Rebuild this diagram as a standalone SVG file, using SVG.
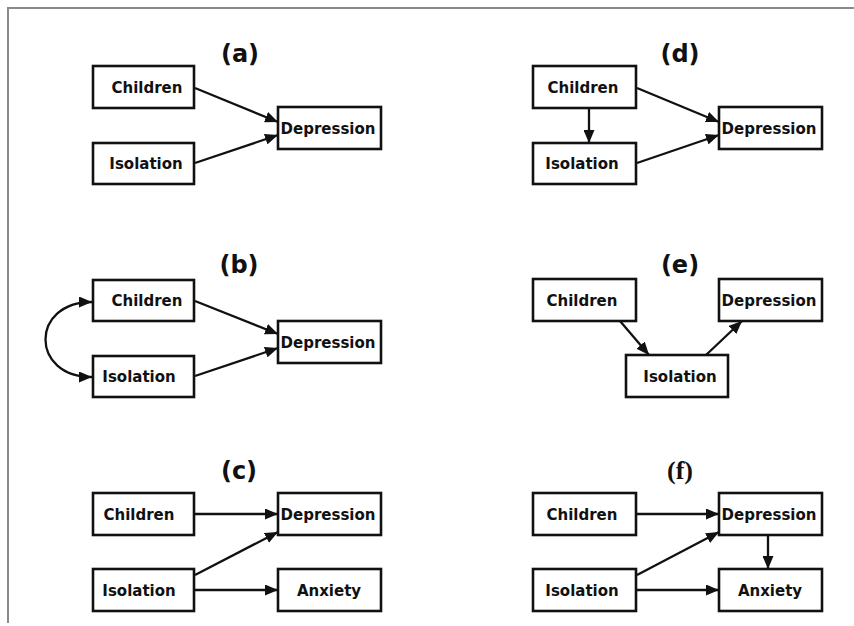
<svg xmlns="http://www.w3.org/2000/svg" width="854" height="626" viewBox="0 0 854 626">
  <style>
    .frame { stroke: #8a8a8a; stroke-width: 2; fill: none; }
    .box rect { fill: #ffffff; stroke: #111111; stroke-width: 2.6; }
    .box text { font-family: "DejaVu Sans", "Liberation Sans", sans-serif; font-weight: bold; font-size: 15px; fill: #111111; text-anchor: middle; }
    .title { font-family: "DejaVu Sans", "Liberation Sans", sans-serif; font-weight: bold; font-size: 24px; fill: #111111; text-anchor: middle; }
    .title.serif { font-family: "Liberation Serif", "DejaVu Serif", serif; font-size: 26px; }
    .edges path, .edges line { stroke: #111111; stroke-width: 2.3; fill: none; marker-end: url(#arrow); }
    .edges .both { marker-start: url(#arrow); }
  </style>
  <defs>
    <marker id="arrow" viewBox="0 0 13 11" refX="13" refY="5.5" markerWidth="13" markerHeight="11" markerUnits="userSpaceOnUse" orient="auto-start-reverse">
      <path d="M0,0 L13,5.5 L0,11 z" fill="#111111"/>
    </marker>
  </defs>

  <rect width="854" height="626" fill="#ffffff"/>
  <path class="frame" d="M8,623 L8,8 L854,8"/>

  <!-- panel titles -->
  <text class="title" x="240" y="62">(a)</text>
  <text class="title" x="680" y="62">(d)</text>
  <text class="title" x="239" y="273">(b)</text>
  <text class="title" x="680" y="273">(e)</text>
  <text class="title" x="239" y="479">(c)</text>
  <text class="title serif" x="680" y="479">(f)</text>

  <!-- connectors -->
  <g class="edges">
    <!-- (a) -->
    <line x1="195" y1="88" x2="278" y2="122"/>
    <line x1="195" y1="163" x2="278" y2="135"/>
    <!-- (d) -->
    <line x1="589" y1="108" x2="589" y2="143"/>
    <line x1="637" y1="88" x2="719" y2="122"/>
    <line x1="637" y1="163" x2="719" y2="135"/>
    <!-- (b) -->
    <path class="both" d="M92,302 C30,302 30,377 92,377"/>
    <line x1="195" y1="301" x2="278" y2="334"/>
    <line x1="195" y1="376" x2="278" y2="348"/>
    <!-- (e) -->
    <line x1="620" y1="321" x2="649" y2="355"/>
    <line x1="706" y1="355" x2="742" y2="321"/>
    <!-- (c) -->
    <line x1="195" y1="514" x2="278" y2="514"/>
    <line x1="195" y1="575" x2="278" y2="532"/>
    <line x1="195" y1="590" x2="278" y2="590"/>
    <!-- (f) -->
    <line x1="637" y1="514" x2="719" y2="514"/>
    <line x1="637" y1="575" x2="719" y2="532"/>
    <line x1="637" y1="590" x2="719" y2="590"/>
    <line x1="768" y1="535" x2="768" y2="569"/>
  </g>

  <!-- (a) nodes -->
  <g id="a-children" class="box"><rect x="93" y="66" width="101" height="42"/><text x="147" y="93">Children</text></g>
  <g id="a-isolation" class="box"><rect x="93" y="143" width="101" height="41"/><text x="146" y="169">Isolation</text></g>
  <g id="a-depression" class="box"><rect x="278" y="107" width="103" height="42"/><text x="328" y="134">Depression</text></g>

  <!-- (d) nodes -->
  <g id="d-children" class="box"><rect x="533" y="66" width="103" height="42"/><text x="583" y="93">Children</text></g>
  <g id="d-isolation" class="box"><rect x="533" y="143" width="103" height="41"/><text x="582" y="169">Isolation</text></g>
  <g id="d-depression" class="box"><rect x="719" y="107" width="103" height="42"/><text x="769" y="134">Depression</text></g>

  <!-- (b) nodes -->
  <g id="b-children" class="box"><rect x="93" y="280" width="101" height="41"/><text x="147" y="306">Children</text></g>
  <g id="b-isolation" class="box"><rect x="93" y="356" width="101" height="41"/><text x="139" y="382">Isolation</text></g>
  <g id="b-depression" class="box"><rect x="278" y="321" width="103" height="42"/><text x="328" y="348">Depression</text></g>

  <!-- (e) nodes -->
  <g id="e-children" class="box"><rect x="533" y="279" width="103" height="42"/><text x="582" y="306">Children</text></g>
  <g id="e-depression" class="box"><rect x="719" y="279" width="103" height="42"/><text x="769" y="306">Depression</text></g>
  <g id="e-isolation" class="box"><rect x="626" y="355" width="102" height="42"/><text x="680" y="382">Isolation</text></g>

  <!-- (c) nodes -->
  <g id="c-children" class="box"><rect x="93" y="493" width="101" height="42"/><text x="139" y="520">Children</text></g>
  <g id="c-depression" class="box"><rect x="278" y="493" width="103" height="42"/><text x="328" y="520">Depression</text></g>
  <g id="c-isolation" class="box"><rect x="93" y="569" width="101" height="42"/><text x="139" y="596">Isolation</text></g>
  <g id="c-anxiety" class="box"><rect x="278" y="569" width="103" height="42"/><text x="329" y="596">Anxiety</text></g>

  <!-- (f) nodes -->
  <g id="f-children" class="box"><rect x="533" y="493" width="103" height="42"/><text x="582" y="520">Children</text></g>
  <g id="f-depression" class="box"><rect x="719" y="493" width="103" height="42"/><text x="769" y="520">Depression</text></g>
  <g id="f-isolation" class="box"><rect x="533" y="569" width="103" height="42"/><text x="582" y="596">Isolation</text></g>
  <g id="f-anxiety" class="box"><rect x="719" y="569" width="103" height="42"/><text x="770" y="596">Anxiety</text></g>
</svg>
